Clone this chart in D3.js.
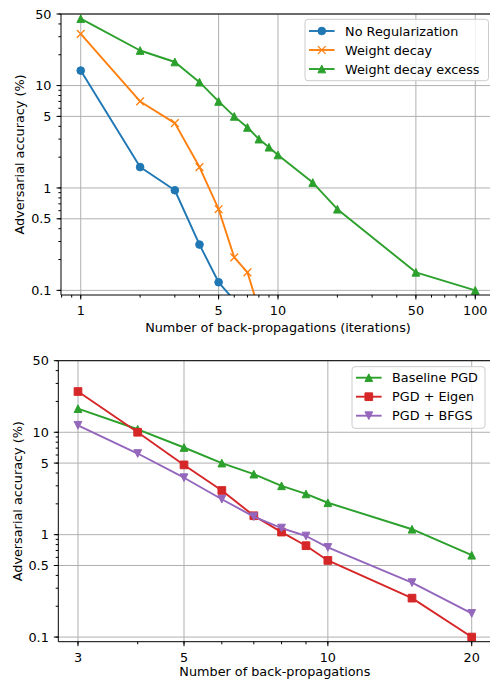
<!DOCTYPE html>
<html>
<head>
<meta charset="utf-8">
<script src="https://d3js.org/d3.v7.min.js"></script>
<style>
  html, body { margin: 0; padding: 0; background: #fff; }
  svg { display: block; font-family: "DejaVu Sans", sans-serif; }
</style>
</head>
<body>
<svg id="chart" width="490" height="680"></svg>
<script>
// ---------- Data (top panel) ----------
const topNoRegX = [1, 2, 3, 4, 5, 6];
const topNoRegY = [14, 1.6, 0.95, 0.28, 0.12, 0.08];
const topWdX = [1, 2, 3, 4, 5, 6, 7, 8];
const topWdY = [32, 7, 4.3, 1.6, 0.62, 0.21, 0.15, 0.065];
const topWdeX = [1, 2, 3, 4, 5, 6, 7, 8, 9, 10, 15, 20, 50, 100];
const topWdeY = [45, 22, 17, 10.8, 7, 5, 3.9, 3, 2.5, 2.1, 1.13, 0.62, 0.15, 0.1];
const topXTicks = [1, 5, 10, 50, 100];
const topXLabel = "Number of back-propagations (iterations)";

// ---------- Data (bottom panel) ----------
const botX = [3, 4, 5, 6, 7, 8, 9, 10, 15, 20];
const botBaseline = [17, 10.7, 7.1, 5, 3.9, 3, 2.5, 2.05, 1.13, 0.63];
const botEigen = [25, 10, 4.8, 2.7, 1.53, 1.06, 0.78, 0.56, 0.24, 0.1];
const botBfgs = [11.7, 6.2, 3.6, 2.22, 1.5, 1.16, 0.97, 0.75, 0.34, 0.17];
const botXTicks = [3, 5, 10, 20];
const botXLabel = "Number of back-propagations";

const yTicks = [0.1, 0.5, 1, 5, 10, 50];
const yLabel = "Adversarial accuracy (%)";

const C = { blue: "#1f77b4", orange: "#ff7f0e", green: "#2ca02c", red: "#d62728", purple: "#9467bd" };
const FS = 12.8;
const MS = 7.7; // marker size px

const svg = d3.select("#chart");

function markerPath(type) {
  const h = MS / 2;
  switch (type) {
    case "circle": return d3.symbol().type(d3.symbolCircle).size(Math.PI * h * h)();
    case "square": return `M${-h},${-h}H${h}V${h}H${-h}Z`;
    case "triUp": return `M0,${-h}L${h},${h}L${-h},${h}Z`;
    case "triDown": return `M0,${h}L${h},${-h}L${-h},${-h}Z`;
    case "x": return `M${-h},${-h}L${h},${h}M${-h},${h}L${h},${-h}`;
  }
}

function drawMarker(g, type, color, x, y) {
  const p = g.append("path").attr("d", markerPath(type)).attr("transform", `translate(${x},${y})`);
  if (type === "x") p.attr("fill", "none").attr("stroke", color).attr("stroke-width", 1.3);
  else p.attr("fill", color).attr("stroke", color).attr("stroke-width", 1.0);
}

function minorTicks(domain) {
  const out = [];
  const lo = Math.floor(Math.log10(domain[0])) - 1, hi = Math.ceil(Math.log10(domain[1])) + 1;
  for (let e = lo; e <= hi; e++) for (let k = 1; k <= 9; k++) {
    const v = k * Math.pow(10, e);
    if (v >= domain[0] && v <= domain[1]) out.push(v);
  }
  return out;
}

function panel(cfg) {
  const { left, right, top, bottom, xDomain, yDomain } = cfg;
  const x = d3.scaleLog().domain(xDomain).range([left, right]);
  const y = d3.scaleLog().domain(yDomain).range([bottom, top]);
  const g = svg.append("g");
  const clipId = "clip" + cfg.id;
  svg.append("clipPath").attr("id", clipId).append("rect")
    .attr("x", left).attr("y", top).attr("width", right - left).attr("height", bottom - top);

  // grid
  const grid = g.append("g").attr("stroke", "#b0b0b0").attr("stroke-width", 1);
  cfg.xTicks.forEach(v => grid.append("line").attr("x1", x(v)).attr("x2", x(v)).attr("y1", top).attr("y2", bottom));
  yTicks.forEach(v => grid.append("line").attr("x1", left).attr("x2", right).attr("y1", y(v)).attr("y2", y(v)));

  // series
  const plot = g.append("g").attr("clip-path", `url(#${clipId})`);
  cfg.series.forEach(s => {
    const pts = s.x.map((xv, i) => [x(xv), y(s.y[i])]);
    plot.append("path").attr("d", d3.line()(pts)).attr("fill", "none")
      .attr("stroke", s.color).attr("stroke-width", 1.9).attr("stroke-linejoin", "round");
    pts.forEach(p => drawMarker(plot, s.marker, s.color, p[0], p[1]));
  });

  // axes
  const ax = g.append("g").attr("stroke", "#000").attr("stroke-width", 1);
  ax.append("line").attr("x1", left).attr("x2", right).attr("y1", top).attr("y2", top);
  ax.append("line").attr("x1", left).attr("x2", right).attr("y1", bottom).attr("y2", bottom);
  ax.append("line").attr("x1", left).attr("x2", left).attr("y1", top).attr("y2", bottom);
  ax.append("line").attr("x1", right).attr("x2", right).attr("y1", top).attr("y2", bottom);

  minorTicks(xDomain).forEach(v => ax.append("line").attr("x1", x(v)).attr("x2", x(v)).attr("y1", bottom).attr("y2", bottom + 2.6));
  cfg.xTicks.forEach(v => ax.append("line").attr("x1", x(v)).attr("x2", x(v)).attr("y1", bottom).attr("y2", bottom + 4.5));
  minorTicks(yDomain).forEach(v => ax.append("line").attr("x1", left - 2.6).attr("x2", left).attr("y1", y(v)).attr("y2", y(v)));
  yTicks.forEach(v => ax.append("line").attr("x1", left - 4.5).attr("x2", left).attr("y1", y(v)).attr("y2", y(v)));

  const txt = g.append("g").attr("fill", "#000").style("font-size", FS + "px");
  cfg.xTicks.forEach(v => txt.append("text").attr("x", x(v)).attr("y", bottom + 20).attr("text-anchor", "middle").text(String(v)));
  yTicks.forEach(v => txt.append("text").attr("x", left - 9.5).attr("y", y(v)).attr("dy", "0.36em").attr("text-anchor", "end").text(String(v)));
  txt.append("text").attr("x", (left + right) / 2).attr("y", bottom + cfg.xLabelDy).attr("text-anchor", "middle").text(cfg.xLabel);
  txt.append("text").attr("transform", `translate(${cfg.yLabelX},${(top + bottom) / 2}) rotate(-90)`)
    .attr("text-anchor", "middle").text(yLabel);

  // legend
  const L = cfg.legend;
  const lg = g.append("g");
  lg.append("rect").attr("x", L.x).attr("y", L.y).attr("width", L.w).attr("height", L.h)
    .attr("rx", 3).attr("fill", "#fff").attr("fill-opacity", 0.8).attr("stroke", "#cccccc").attr("stroke-width", 1);
  cfg.series.forEach((s, i) => {
    const cy = L.y + L.first + i * L.step;
    lg.append("line").attr("x1", L.x + 4).attr("x2", L.x + 4 + 2 * FS).attr("y1", cy).attr("y2", cy)
      .attr("stroke", s.color).attr("stroke-width", 1.9);
    drawMarker(lg, s.marker, s.color, L.x + 4 + FS, cy);
    lg.append("text").attr("x", L.x + 4 + 2 * FS + 10.5).attr("y", cy).attr("dy", "0.36em")
      .style("font-size", FS + "px").attr("fill", "#000").text(s.name);
  });
}

panel({
  id: "top", left: 61, right: 495, top: 14, bottom: 295,
  xDomain: [Math.pow(10, -0.1), Math.pow(10, 2.1)], yDomain: [0.0901, 50],
  xTicks: topXTicks, xLabel: topXLabel, xLabelDy: 37, yLabelX: 24,
  series: [
    { name: "No Regularization", x: topNoRegX, y: topNoRegY, color: C.blue, marker: "circle" },
    { name: "Weight decay", x: topWdX, y: topWdY, color: C.orange, marker: "x" },
    { name: "Weight decay excess", x: topWdeX, y: topWdeY, color: C.green, marker: "triUp" }
  ],
  legend: { x: 305, y: 19.3, w: 183.5, h: 61.4, first: 11.7, step: 19 }
});

panel({
  id: "bot", left: 58.3, right: 491.4, top: 360.7, bottom: 641.7,
  xDomain: [3 * Math.pow(10, -0.0412), 20 * Math.pow(10, 0.0412)], yDomain: [0.0901, 50],
  xTicks: botXTicks, xLabel: botXLabel, xLabelDy: 34.5, yLabelX: 21.5,
  series: [
    { name: "Baseline PGD", x: botX, y: botBaseline, color: C.green, marker: "triUp" },
    { name: "PGD + Eigen", x: botX, y: botEigen, color: C.red, marker: "square" },
    { name: "PGD + BFGS", x: botX, y: botBfgs, color: C.purple, marker: "triDown" }
  ],
  legend: { x: 352, y: 366.7, w: 133, h: 61.6, first: 11, step: 19 }
});
</script>
</body>
</html>
